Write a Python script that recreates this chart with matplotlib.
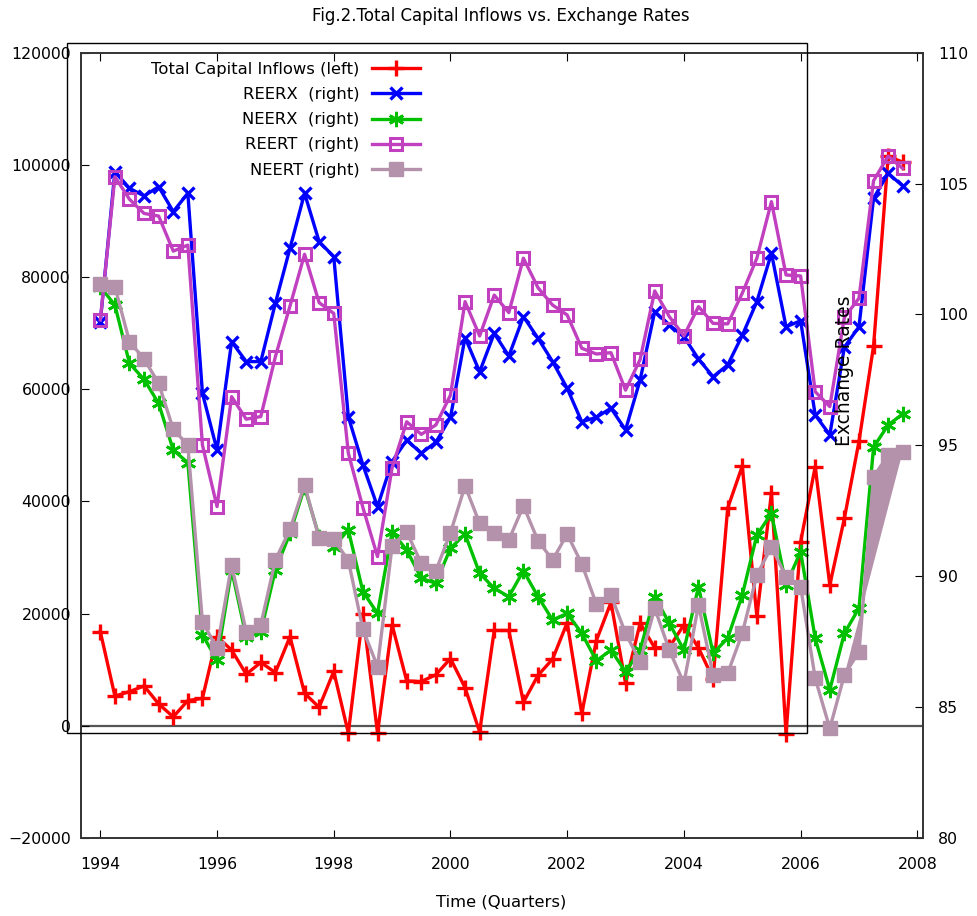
import matplotlib
matplotlib.use("Agg")
import matplotlib.pyplot as plt
from matplotlib.patches import Rectangle

# quarterly time axis 1994Q1 .. 2007Q4
years = list(range(1994, 2008))
qtr = [0.0, 0.25, 0.5, 0.75]
t = [y + q for y in years for q in qtr]

inflows = [16800, 5300, 6100, 7100, 3900, 1600, 4500, 4900, 15900, 13500,
           9200, 11300, 9500, 15900, 5800, 3300, 9700, -1300, 20000, -1300,
           18000, 8000, 7900, 9100, 12000, 6800, -1100, 17000, 17000, 4200,
           9000, 11900, 18400, 2200, 15200, 22000, 7600, 18300, 13900, 14000,
           18000, 13900, 8400, 38800, 46300, 19500, 41500, -1400, 32800, 46200,
           25100, 37000, 50700, 67700, 101500, 100500]
reerx = [99.72, 105.45, 104.82, 104.53, 104.88, 103.93, 104.63, 96.99, 94.82, 98.96,
         98.2, 98.2, 100.43, 102.53, 104.63, 102.78, 102.21, 96.09, 94.25, 92.66,
         94.38, 95.2, 94.7, 95.12, 96.07, 99.12, 97.81, 99.28, 98.41, 99.92,
         99.09, 98.2, 97.18, 95.9, 96.07, 96.42, 95.59, 97.5, 100.11, 99.6,
         99.15, 98.3, 97.62, 98.07, 99.2, 100.49, 102.34, 99.53, 99.76, 96.16,
         95.4, 98.75, 99.53, 104.44, 105.39, 104.91]
neerx = [101.06, 100.36, 98.13, 97.52, 96.6, 94.82, 94.34, 87.76, 86.8, 90.24,
         87.69, 87.88, 90.24, 91.64, 93.4, 91.51, 91.13, 91.77, 89.41, 88.58,
         91.7, 91.0, 89.92, 89.73, 91.07, 91.61, 90.11, 89.54, 89.22, 90.21,
         89.22, 88.33, 88.58, 87.82, 86.77, 87.18, 86.35, 87.18, 89.22, 88.2,
         87.18, 89.6, 87.06, 87.63, 89.28, 91.57, 92.4, 89.67, 90.94, 87.63,
         85.66, 87.82, 88.78, 94.93, 95.78, 96.2]
reert = [99.79, 105.26, 104.4, 103.86, 103.76, 102.42, 102.65, 95.01, 92.66, 96.86,
         96.0, 96.1, 98.39, 100.32, 102.3, 100.45, 100.04, 94.7, 92.62, 90.75,
         94.15, 95.9, 95.42, 95.78, 96.92, 100.49, 99.18, 100.74, 100.07, 102.15,
         101.02, 100.36, 99.98, 98.71, 98.49, 98.54, 97.11, 98.28, 100.9, 99.92,
         99.18, 100.3, 99.66, 99.64, 100.81, 102.15, 104.31, 101.51, 101.47, 97.05,
         96.48, 99.89, 100.62, 105.11, 106.05, 105.58]
neert = [101.16, 101.06, 98.96, 98.3, 97.37, 95.61, 95.01, 88.26, 87.25, 90.43,
         87.88, 88.14, 90.62, 91.79, 93.49, 91.45, 91.41, 90.6, 87.97, 86.55,
         91.16, 91.7, 90.49, 90.21, 91.66, 93.45, 92.02, 91.64, 91.38, 92.69,
         91.36, 90.62, 91.61, 90.47, 88.94, 89.28, 87.82, 86.74, 88.78, 87.18,
         85.91, 88.9, 86.23, 86.29, 87.82, 90.04, 91.13, 89.98, 89.6, 86.1,
         84.19, 86.23, 87.12, 93.8, 94.63, 94.76]

labels = ["Total Capital Inflows (left)", "REERX  (right)", "NEERX  (right)",
          "REERT  (right)", "NEERT (right)"]
xticks = [1994, 1996, 1998, 2000, 2002, 2004, 2006, 2008]

W, H = 977, 916
fig = plt.figure(figsize=(W / 100, H / 100), dpi=100)
ax = fig.add_axes([80.7 / W, 1 - 838 / H, (923 - 80.7) / W, (838 - 52.7) / H])
ax2 = ax.twinx()

lw = 2.4
gray = "#b592ab"
h1, = ax.plot(t, inflows, color="red", lw=lw, marker="+", ms=11, mew=2.4)
h2, = ax2.plot(t, reerx, color="#0000ff", lw=lw, marker="x", ms=9, mew=2.4)
h3, = ax2.plot(t, neerx, color="#00c000", lw=lw, marker=(6, 2, 0), ms=11, mew=2.0)
h4, = ax2.plot(t, reert, color="#c040c0", lw=lw, marker="s", ms=8.5, mew=2.2,
               mfc="none")
h5, = ax2.plot(t, neert, color=gray, lw=lw, marker="s", ms=9.5, mew=1)
# odd filled wedge at the end of the NEERT line
ax2.fill(t[51:], neert[51:], color=gray, lw=0)

ax.axhline(0, color="#555555", lw=1.6, zorder=0)

ax.set_xlim(1993.664, 2008.097)
ax.set_ylim(-20000, 120000)
ax2.set_ylim(80, 110)
ax.set_xticks(xticks)
ax.set_yticks(range(-20000, 120001, 20000))
ax2.set_yticks(range(80, 111, 5))

ax.tick_params(axis="x", direction="in", top=True, length=6, labelsize=11.3, pad=14)
ax.tick_params(axis="y", direction="in", right=False, length=6, labelsize=11.3, pad=7)
ax2.tick_params(axis="y", direction="in", length=6, labelsize=11.3, pad=11)
for a in (ax, ax2):
    for s in a.spines.values():
        s.set_color("#333333")
        s.set_linewidth(1.2)

fig.legend([h1, h2, h3, h4, h5], labels, loc="upper right",
           bbox_to_anchor=(420 / W, 1 - 62 / H), frameon=False, markerfirst=False,
           fontsize=11.8, handlelength=2.9, handletextpad=0.8, labelspacing=0.62,
           borderpad=0, borderaxespad=0)

fig.text(500.5 / W, 1 - 16 / H, "Fig.2.Total Capital Inflows vs. Exchange Rates",
         ha="center", va="center", fontsize=12)
fig.text(501.5 / W, 1 - 902 / H, "Time (Quarters)", ha="center", va="center",
         fontsize=11.8)
fig.text(845 / W, 1 - 371 / H, "Exchange Rates", rotation=90, ha="center",
         va="center", fontsize=13.5)

fig.add_artist(Rectangle((67 / W, 1 - 733 / H), (807 - 67) / W, (733 - 43.3) / H,
                         transform=fig.transFigure, fill=False, ec="black",
                         lw=1.0, zorder=10))

fig.savefig("out.png", dpi=100)
